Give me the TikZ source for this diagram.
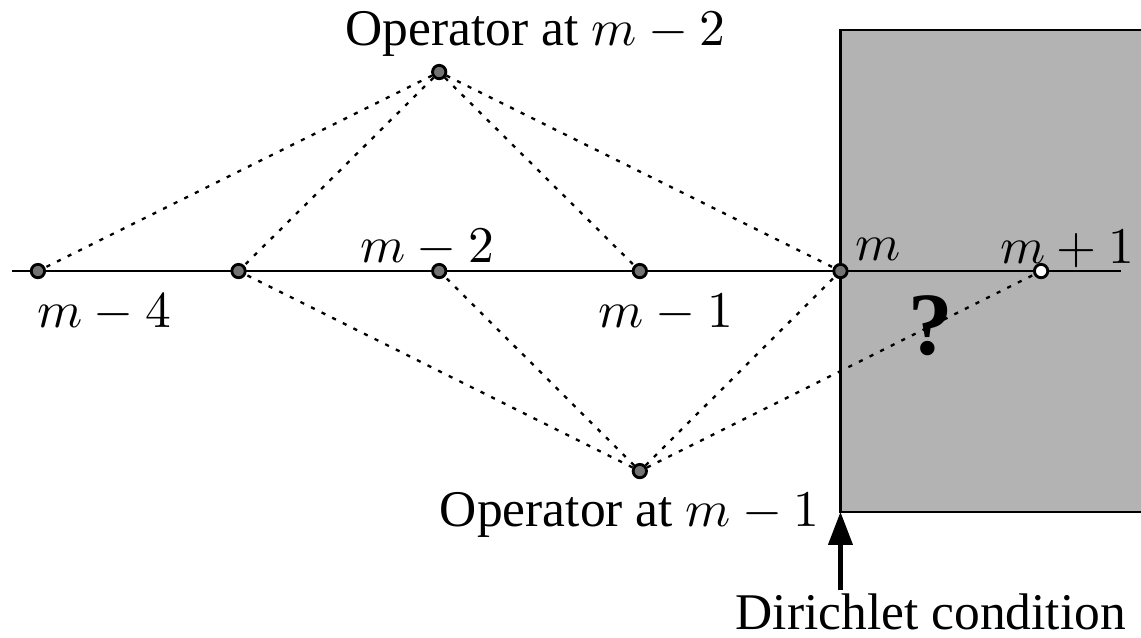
\documentclass[tikz,border=0pt]{standalone}
\usepackage{fontspec}
\setmainfont{Liberation Serif}
\usetikzlibrary{arrows.meta,positioning}
\definecolor{wallGray}{HTML}{B3B3B3}

\begin{document}
\begin{tikzpicture}[x=1.37cm,y=1.37cm, every node/.style={font=\normalsize},
    gridpt/.style={circle, draw, line width=0.55pt, fill=black!55, inner sep=0pt, minimum size=2.6pt},
    ghostpt/.style={gridpt, fill=white},
    stencil/.style={line width=0.45pt, dash pattern=on 0.8pt off 1.5pt}]
    \useasboundingbox (-0.189,-1.824) rectangle (5.498,1.351);
    % wall region beyond the boundary
    \filldraw[fill=wallGray, draw=black, line width=0.45pt] (4,-1.2) rectangle (5.7,1.2);
    \coordinate (wallfoot) at (4,-1.2);
    \coordinate (axisL) at (-0.13,0);
    \coordinate (axisR) at (5.40,0);
    \draw[line width=0.45pt] (axisL) -- (axisR);
    % grid points
    \node[gridpt] (m4) at (0,0) {};
    \node[gridpt] (m3) at (1,0) {};
    \node[gridpt] (m2) at (2,0) {};
    \node[gridpt] (m1) at (3,0) {};
    \node[gridpt] (m0) at (4,0) {};
    \node[ghostpt] (mp) at (5,0) {};
    % operator centres
    \node[gridpt] (opA) at (2,0.992) {};
    \node[gridpt] (opB) at (3,-0.997) {};
    \draw[stencil] (opA) -- (m4);
    \draw[stencil] (opA) -- (m3);
    \draw[stencil] (opA) -- (m1);
    \draw[stencil] (opA) -- (m0);
    \draw[stencil] (opB) -- (m3);
    \draw[stencil] (opB) -- (m2);
    \draw[stencil] (opB) -- (m0);
    \draw[stencil] (opB) -- (mp);
    % labels
    \node (lm4) at (0.33,-0.21) {$m-4$};
    \node (lm2) at (1.94,0.115) {$m-2$};
    \node (lm1) at (3.13,-0.21) {$m-1$};
    \node (lm0) at (4.19,0.11) {$m$};
    \node (lmp) at (5.13,0.11) {$m+1$};
    \node[font=\LARGE\bfseries] (qmark) at (4.45,-0.27) {?};
    \node (opAtxt) at (2.48,1.18) {Operator at $m-2$};
    \node (opBtxt) at (2.95,-1.216) {Operator at $m-1$};
    \node (dirtxt) at (4.45,-1.70) {Dirichlet condition};
    \coordinate (dirtail) at (4,-1.59);
    \draw[line width=0.9pt, -{Triangle[length=6.4pt,width=4.6pt]}] (dirtail) -- (wallfoot);
\end{tikzpicture}
\end{document}
